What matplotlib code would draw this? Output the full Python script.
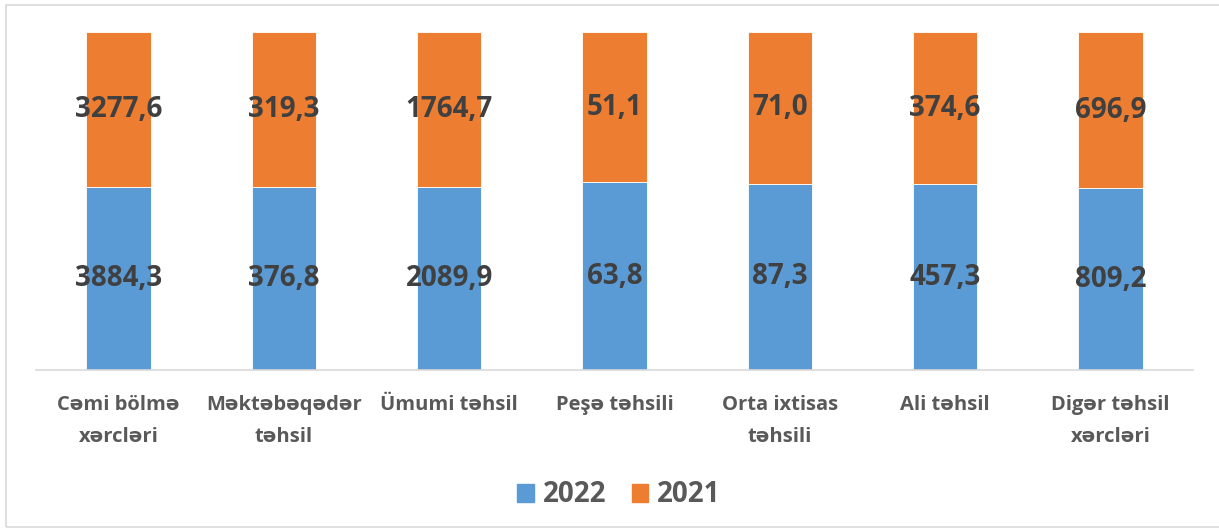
import matplotlib.pyplot as plt
import numpy as np
from matplotlib.patches import Rectangle, Patch

plt.rcParams['font.family'] = ['Open Sans', 'DejaVu Sans']

categories = ['Cəmi bölmə\nxərcləri', 'Məktəbəqədər\ntəhsil', 'Ümumi təhsil', 'Peşə təhsili',
              'Orta ixtisas\ntəhsili', 'Ali təhsil', 'Digər təhsil\nxərcləri']
vals_2022 = [3884.3, 376.8, 2089.9, 63.8, 87.3, 457.3, 809.2]
vals_2021 = [3277.6, 319.3, 1764.7, 51.1, 71.0, 374.6, 696.9]

blue = '#5B9BD5'
orange = '#ED7D31'
grey_txt = '#404040'

v22 = np.array(vals_2022)
v21 = np.array(vals_2021)
tot = v22 + v21
p22 = v22 / tot * 100
p21 = v21 / tot * 100
x = np.arange(len(categories))

fig = plt.figure(figsize=(12.19, 5.30), dpi=100)
fig.patches.append(Rectangle((6 / 1219, 0.005), 1.0, 1 - 5 / 530 - 0.005, transform=fig.transFigure,
                             fill=False, edgecolor='#D9D9D9', linewidth=1.2))
ax = fig.add_axes([36 / 1219, 1 - 370 / 530, (1193 - 36) / 1219, (370 - 32) / 530])

w = 0.39
ax.bar(x, p22, w, color=blue, edgecolor='white', linewidth=0.6)
ax.bar(x, p21, w, bottom=p22, color=orange, edgecolor='white', linewidth=0.6)

def fmt(v):
    return ('%.1f' % v).replace('.', ',')

for i in range(len(x)):
    ax.text(x[i], p22[i] / 2, fmt(v22[i]), ha='center', va='center', fontsize=20,
            fontweight='bold', color=grey_txt)
    ax.text(x[i], p22[i] + p21[i] / 2, fmt(v21[i]), ha='center', va='center', fontsize=20,
            fontweight='bold', color=grey_txt)

ax.set_xlim(-0.5, len(x) - 0.5)
ax.set_ylim(0, 100)
ax.set_yticks([])
ax.set_xticks(x)
ax.set_xticklabels(categories, fontsize=14.5, color='#595959', fontweight='bold', linespacing=1.78)
ax.tick_params(axis='x', length=0, pad=18)
for s in ['left', 'right', 'top']:
    ax.spines[s].set_visible(False)
ax.spines['bottom'].set_color('#D9D9D9')
ax.spines['bottom'].set_linewidth(1.2)

handles = [Patch(color=blue, label='2022'), Patch(color=orange, label='2021')]
leg = fig.legend(handles=handles, loc='center', bbox_to_anchor=(619 / 1219, 1 - 495 / 530), ncol=2,
                 frameon=False, handlelength=0.6, handleheight=0.6, columnspacing=0.9, handletextpad=0.32,
                 prop={'size': 20, 'weight': 'bold'})
for t in leg.get_texts():
    t.set_color('#595959')

fig.savefig('out.png', dpi=100)
